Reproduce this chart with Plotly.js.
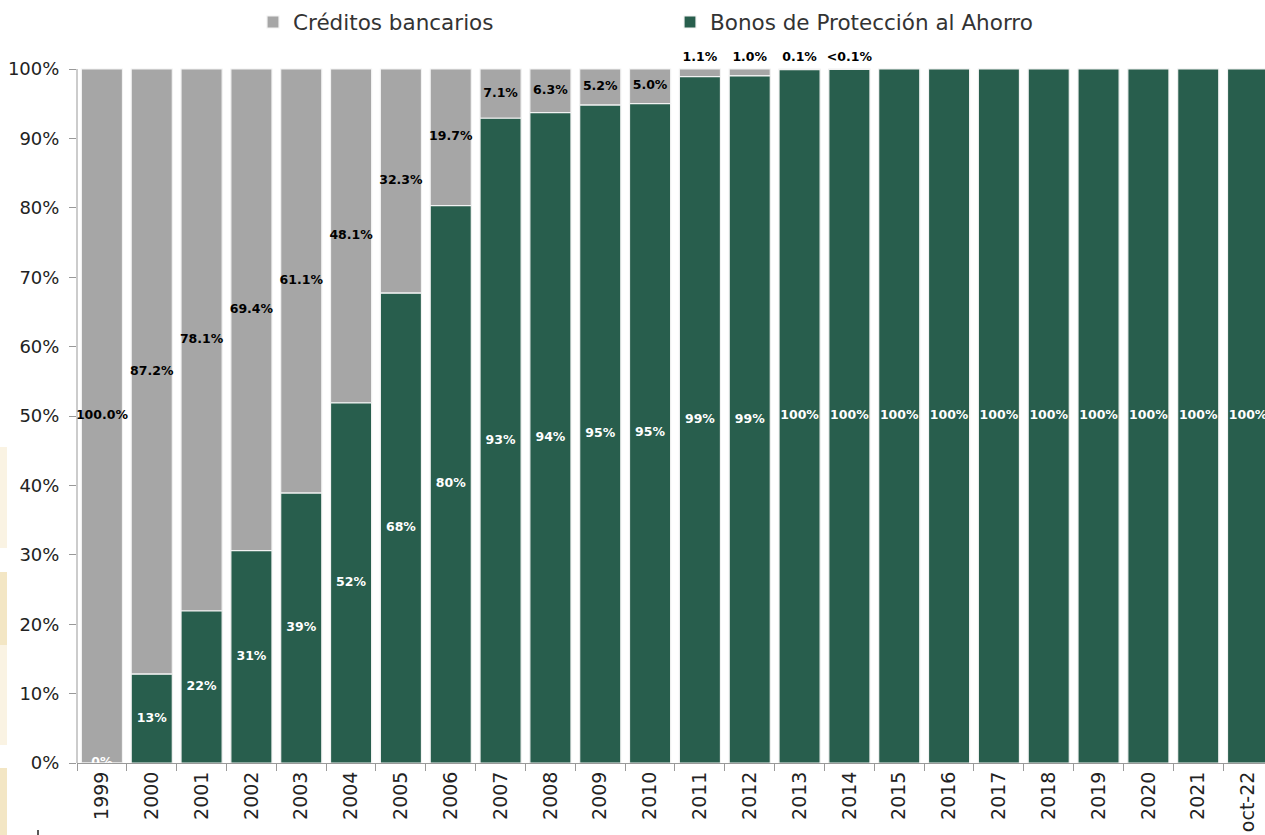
<!DOCTYPE html>
<html>
<head>
<meta charset="utf-8">
<script src="https://cdn.plot.ly/plotly-3.0.1.min.js"></script>
<style>html,body{margin:0;padding:0;background:#fff;}#chart{width:1265px;height:835px;}</style>
</head>
<body>
<div id="chart"></div>
<script>
const categories = ['1999','2000','2001','2002','2003','2004','2005','2006','2007','2008','2009','2010','2011','2012','2013','2014','2015','2016','2017','2018','2019','2020','2021','oct-22'];
const bonos = [0, 12.8, 21.9, 30.6, 38.9, 51.9, 67.7, 80.3, 92.9, 93.7, 94.8, 95.0, 98.9, 99.0, 99.9, 99.95, 100, 100, 100, 100, 100, 100, 100, 100];
const creditos = [100.0, 87.2, 78.1, 69.4, 61.1, 48.1, 32.3, 19.7, 7.1, 6.3, 5.2, 5.0, 1.1, 1.0, 0.1, 0.05, 0, 0, 0, 0, 0, 0, 0, 0];
const bonosLabels = ['0%','13%','22%','31%','39%','52%','68%','80%','93%','94%','95%','95%','99%','99%','100%','100%','100%','100%','100%','100%','100%','100%','100%','100%'];
const creditosLabels = ['100.0%','87.2%','78.1%','69.4%','61.1%','48.1%','32.3%','19.7%','7.1%','6.3%','5.2%','5.0%','1.1%','1.0%','0.1%','<0.1%','','','','','','','',''];
const yTickVals = [0,10,20,30,40,50,60,70,80,90,100];
const yTickText = ['0%','10%','20%','30%','40%','50%','60%','70%','80%','90%','100%'];

const GREEN = '#285e4d';
const GRAY = '#a6a6a6';
const FONT = 'DejaVu Sans';

// label positions derived from the data: inside the segment, or just above a full bar when the segment is thin
const bonosY = bonos.map(v => v / 2);
const creditosY = creditos.map((v, i) => v >= 4 ? bonos[i] + v / 2 : (bonos[i] + v) + 1.6);

const traces = [
  {type:'bar', name:'Créditos bancarios', x:categories, y:creditos, base:bonos,
   marker:{color:GRAY, line:{color:'#f2f2f2', width:1.2}}, hoverinfo:'none', showlegend:true},
  {type:'bar', name:'Bonos de Protección al Ahorro', x:categories, y:bonos,
   marker:{color:GREEN, line:{color:'#f2f2f2', width:1.2}}, hoverinfo:'none'},
  {type:'scatter', mode:'text', x:categories, y:bonosY, text:bonosLabels,
   textfont:{family:FONT, size:12.5, color:'#ffffff', weight:'bold'}, showlegend:false, hoverinfo:'none', cliponaxis:true},
  {type:'scatter', mode:'text', x:categories, y:creditosY, text:creditosLabels,
   textfont:{family:FONT, size:12.5, color:'#000000', weight:'bold'}, showlegend:false, hoverinfo:'none', cliponaxis:true}
];

const W = 1265, H = 835, ML = 77, MR = 0, MT = 50, MB = 72;
const PW = W - ML - MR, PH = H - MT - MB;
const Y_TOP = 100 + (69 - MT) / ((H - MB - 69) / 100); // headroom above 100% for the small labels
function px(x){ return (x - ML) / PW; }
function py(y){ return (H - MB - y) / PH; }
const cream1 = '#faf3e3', cream2 = '#f3e6c4';
const blocks = [[447,548,cream1],[572,645,cream2],[645,745,cream1],[768,835,cream2]];
const shapes = blocks.map(b => ({type:'rect', xref:'paper', yref:'paper', x0:px(0), x1:px(7), y0:py(b[1]), y1:py(b[0]), fillcolor:b[2], line:{width:0}, layer:'below'}));
shapes.push({type:'line', xref:'paper', yref:'paper', x0:px(38), x1:px(38), y0:py(835), y1:py(830), line:{color:'#222222', width:1.5}});
// y axis line only up to 100%
shapes.push({type:'line', xref:'paper', yref:'y', x0:0, x1:0, y0:0, y1:100, line:{color:'#999999', width:1}, layer:'above'});

const layout = {
  width:W, height:H,
  margin:{l:ML, r:MR, t:MT, b:MB, pad:0},
  paper_bgcolor:'#ffffff', plot_bgcolor:'#ffffff',
  barmode:'overlay', bargap:0.175,
  font:{family:FONT, color:'#222222'},
  showlegend:true,
  legend:{orientation:'h', x:px(253), xanchor:'left', y:py(22), yanchor:'middle', traceorder:'normal',
          font:{family:FONT, size:21.5, color:'#333333'}, entrywidth:372, entrywidthmode:'pixels', itemwidth:30},
  xaxis:{type:'category', range:[-0.5, 23.34], tickangle:-90, tickson:'boundaries', ticks:'outside', ticklen:7,
         tickcolor:'#999999', showline:true, linecolor:'#999999', linewidth:1, showgrid:false, zeroline:false,
         tickfont:{family:FONT, size:19, color:'#222222'}, fixedrange:true},
  yaxis:{range:[0, Y_TOP], tickvals:yTickVals, ticktext:yTickText,
         ticks:'outside', ticklen:7, tickcolor:'#999999', showline:false,
         ticklabelstandoff:6,
         showgrid:false, zeroline:false, tickfont:{family:FONT, size:18, color:'#222222'}, fixedrange:true},
  shapes:shapes
};

Plotly.newPlot('chart', traces, layout, {displayModeBar:false, staticPlot:true});
</script>
</body>
</html>
